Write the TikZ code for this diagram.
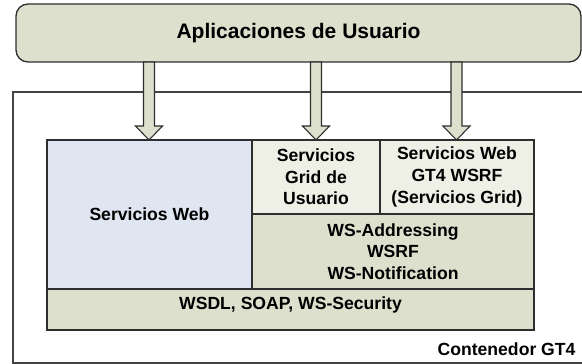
\documentclass[tikz,border=0pt]{standalone}
\usepackage{fontspec}
\setmainfont{Liberation Sans}
\usepackage{xcolor}
\usepackage{tikz}
\usetikzlibrary{positioning,calc}

\definecolor{appsgreen}{HTML}{DCE0CC}
\definecolor{webblue}{HTML}{DFE5F1}
\definecolor{gridpale}{HTML}{EEF0E5}
\definecolor{edgegray}{HTML}{2E2E2E}

\begin{document}
\begin{tikzpicture}[x=1pt,y=1pt,
	box/.style={draw=edgegray, line width=1.3pt, inner sep=0pt, outer sep=0pt,
		align=center, font=\bfseries\fontsize{17.6}{21.7}\selectfont},
	blockarrow/.style={draw=edgegray, line width=1.1pt, fill=appsgreen, line join=miter}]
	\useasboundingbox (0,0) rectangle (582,364);
	
	% contenedor
	\draw[edgegray!90, line width=1.8pt] (13,1) rectangle (600,272);
	\node[anchor=base east, font=\bfseries\fontsize{17.6}{21.7}\selectfont] (cont) at (579,8) {Contenedor GT4};
	
	% aplicaciones
	\node[box, rounded corners=12pt, fill=appsgreen, minimum width=565, minimum height=58,
		font=\bfseries\fontsize{21}{25}\selectfont] (apps) at (298.5,331) {Aplicaciones de Usuario};
	
	% servicios
	\node[box, fill=webblue, minimum width=205, minimum height=149, anchor=north west] (sweb) at (47,224) {Servicios Web};
	\node[box, fill=gridpale, minimum width=128, minimum height=74, anchor=north west] (grid) at (sweb.north east) {Servicios\\Grid de\\Usuario};
	\node[box, fill=gridpale, minimum width=154, minimum height=74, anchor=north west] (gt4) at (grid.north east) {Servicios Web\\GT4 WSRF\\(Servicios Grid)};
	\node[box, fill=appsgreen, minimum width=282, minimum height=75, anchor=north west] (wsa) at (grid.south west) {WS-Addressing\\WSRF\\WS-Notification};
	\node[box, fill=appsgreen, minimum width=487, minimum height=41, anchor=north west,
		text height=12.7pt, text depth=13pt] (wsdl) at (sweb.south west) {WSDL, SOAP, WS-Security};
	
	% flechas
	\coordinate (a1) at (149,0);
	\coordinate (a2) at (316,0);
	\coordinate (a3) at (456.5,0);
	
	\draw[blockarrow] ($(apps.south -| a1)+(-5.5,0)$) -- ($(sweb.north -| a1)+(-5.5,14)$) -- ++(-8,0)
		-- (sweb.north -| a1) -- ++(13.5,14) -- ++(-8,0) -- ($(apps.south -| a1)+(5.5,0)$) -- cycle;
	\draw[blockarrow] ($(apps.south -| a2)+(-5.5,0)$) -- ($(grid.north -| a2)+(-5.5,14)$) -- ++(-8,0)
		-- (grid.north -| a2) -- ++(13.5,14) -- ++(-8,0) -- ($(apps.south -| a2)+(5.5,0)$) -- cycle;
	\draw[blockarrow] ($(apps.south -| a3)+(-5.5,0)$) -- ($(gt4.north -| a3)+(-5.5,14)$) -- ++(-8,0)
		-- (gt4.north -| a3) -- ++(13.5,14) -- ++(-8,0) -- ($(apps.south -| a3)+(5.5,0)$) -- cycle;
\end{tikzpicture}
\end{document}
